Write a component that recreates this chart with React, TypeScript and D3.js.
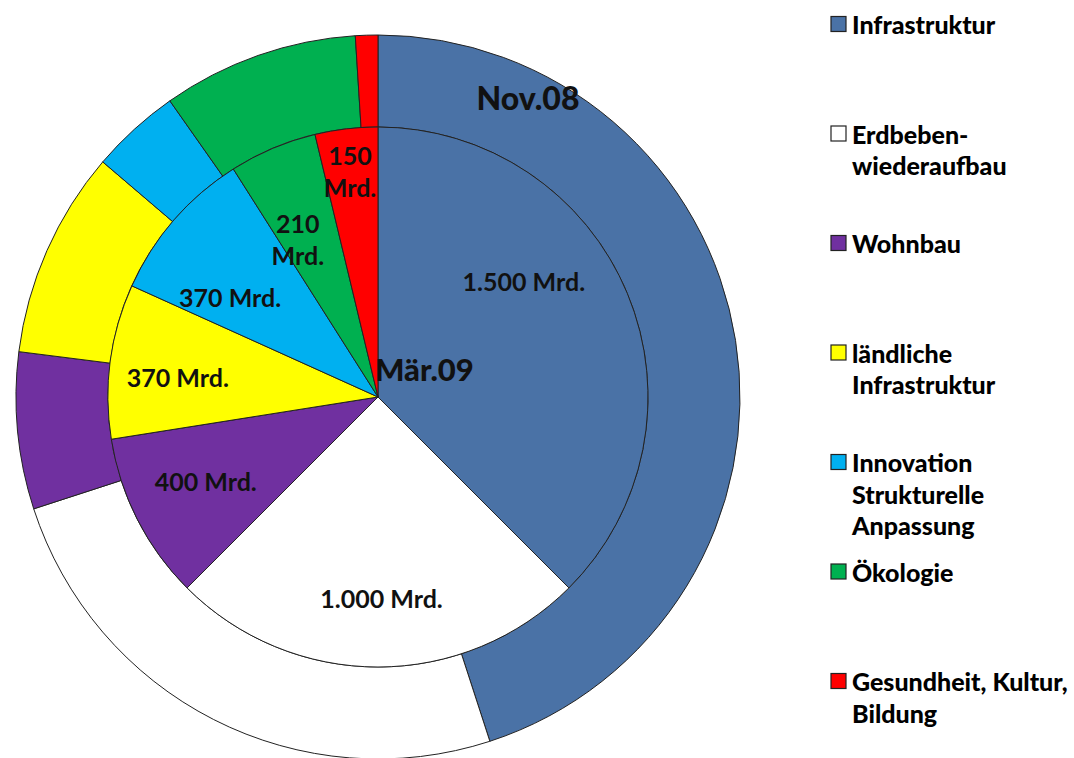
import * as d3 from "d3";
import { useEffect, useRef } from "react";

// categories in drawing order (clockwise from 12 o'clock)
const categories = [
  "Infrastruktur",
  "Erdbebenwiederaufbau",
  "Wohnbau",
  "ländliche Infrastruktur",
  "Innovation Strukturelle Anpassung",
  "Ökologie",
  "Gesundheit, Kultur, Bildung",
];

// Mrd. Yuan, plan of November 2008 (outer ring)
const nov08 = [1800, 1000, 280, 370, 160, 350, 40];
// Mrd. Yuan, plan of March 2009 (inner pie)
const mar09 = [1500, 1000, 400, 370, 370, 210, 150];

const mar09Labels = [
  ["1.500 Mrd."],
  ["1.000 Mrd."],
  ["400 Mrd."],
  ["370 Mrd."],
  ["370 Mrd."],
  ["210", "Mrd."],
  ["150", "Mrd."],
];

const legendLines = [
  ["Infrastruktur"],
  ["Erdbeben-", "wiederaufbau"],
  ["Wohnbau"],
  ["ländliche", "Infrastruktur"],
  ["Innovation", "Strukturelle", "Anpassung"],
  ["Ökologie"],
  ["Gesundheit, Kultur,", "Bildung"],
];

const colors = ["#4a72a6", "#ffffff", "#7030a0", "#ffff00", "#00b0f0", "#00b050", "#ff0000"];

export default function App() {
  const ref = useRef<SVGSVGElement>(null);

  useEffect(() => {
    const width = 1074, height = 758;
    const cx = 378, cy = 397;
    const rInner = 270, rOuter = 362;
    const font = "Lato, Calibri, 'Open Sans', sans-serif";

    const svg = d3.select(ref.current);
    svg.selectAll("*").remove();
    svg.attr("width", width).attr("height", height);

    const pie = d3.pie<number>().sort(null).value(d => d);
    const g = svg.append("g").attr("transform", `translate(${cx},${cy})`);

    // outer ring (Nov.08)
    const ringArc = d3.arc<d3.PieArcDatum<number>>().innerRadius(rInner).outerRadius(rOuter);
    g.append("g")
      .selectAll("path")
      .data(pie(nov08))
      .enter()
      .append("path")
      .attr("d", ringArc)
      .attr("fill", (d, i) => colors[i])
      .attr("stroke", "#222")
      .attr("stroke-width", 1);

    // inner pie (Mär.09)
    const pieArc = d3.arc<d3.PieArcDatum<number>>().innerRadius(0).outerRadius(rInner);
    const inner = pie(mar09);
    g.append("g")
      .selectAll("path")
      .data(inner)
      .enter()
      .append("path")
      .attr("d", pieArc)
      .attr("fill", (d, i) => colors[i])
      .attr("stroke", "#222")
      .attr("stroke-width", 1);

    // label placement: fraction of radius and angle nudge (deg)
    const labelR = [0.69, 0.745, 0.71, 0.745, 0.66, 0.655, 0.845];
    const labelNudge = [-16, -1, 1, -2, -7, -4, -0.3];
    const lineH = 32;

    inner.forEach((d, i) => {
      const a = (d.startAngle + d.endAngle) / 2 + (labelNudge[i] * Math.PI) / 180;
      const r = rInner * labelR[i];
      const x = Math.sin(a) * r;
      const y = -Math.cos(a) * r;
      const lines = mar09Labels[i];
      const t = g.append("text")
        .attr("x", x)
        .attr("y", y - ((lines.length - 1) * lineH) / 2)
        .attr("text-anchor", "middle")
        .attr("dominant-baseline", "central")
        .attr("font-family", font)
        .attr("font-size", "25px")
        .attr("font-weight", "bold")
        .attr("fill", "#111");
      lines.forEach((l, j) => {
        t.append("tspan").attr("x", x).attr("dy", j === 0 ? 0 : lineH).text(l);
      });
    });

    g.append("text")
      .attr("x", 150)
      .attr("y", -300)
      .attr("text-anchor", "middle")
      .attr("dominant-baseline", "central")
      .attr("font-family", font)
      .attr("font-size", "32px")
      .attr("font-weight", "900")
      .attr("fill", "#111")
      .text("Nov.08");

    g.append("text")
      .attr("x", -3)
      .attr("y", -28)
      .attr("text-anchor", "start")
      .attr("dominant-baseline", "central")
      .attr("font-family", font)
      .attr("font-size", "31px")
      .attr("font-weight", "900")
      .attr("fill", "#111")
      .text("Mär.09");

    // legend
    const legendY = d3.scaleLinear().domain([0, categories.length - 1]).range([24, 681]);
    const legendLineH = 31.5;
    const legend = svg.append("g");
    categories.forEach((c, i) => {
      const y0 = legendY(i);
      legend.append("rect")
        .attr("x", 831)
        .attr("y", y0 - 7.5)
        .attr("width", 15)
        .attr("height", 15)
        .attr("fill", colors[i])
        .attr("stroke", "#222")
        .attr("stroke-width", 1.2);
      const t = legend.append("text")
        .attr("font-family", font)
        .attr("font-size", "25px")
        .attr("font-weight", "900")
        .attr("fill", "#000")
        .attr("dominant-baseline", "central");
      legendLines[i].forEach((l, j) => {
        t.append("tspan").attr("x", 852).attr("y", y0 + j * legendLineH).text(l);
      });
      t.append("title").text(c);
    });
  }, []);

  return (
    <svg ref={ref} style={{ position: "absolute", left: 0, top: 0, display: "block", background: "#fff" }}></svg>
  );
}
